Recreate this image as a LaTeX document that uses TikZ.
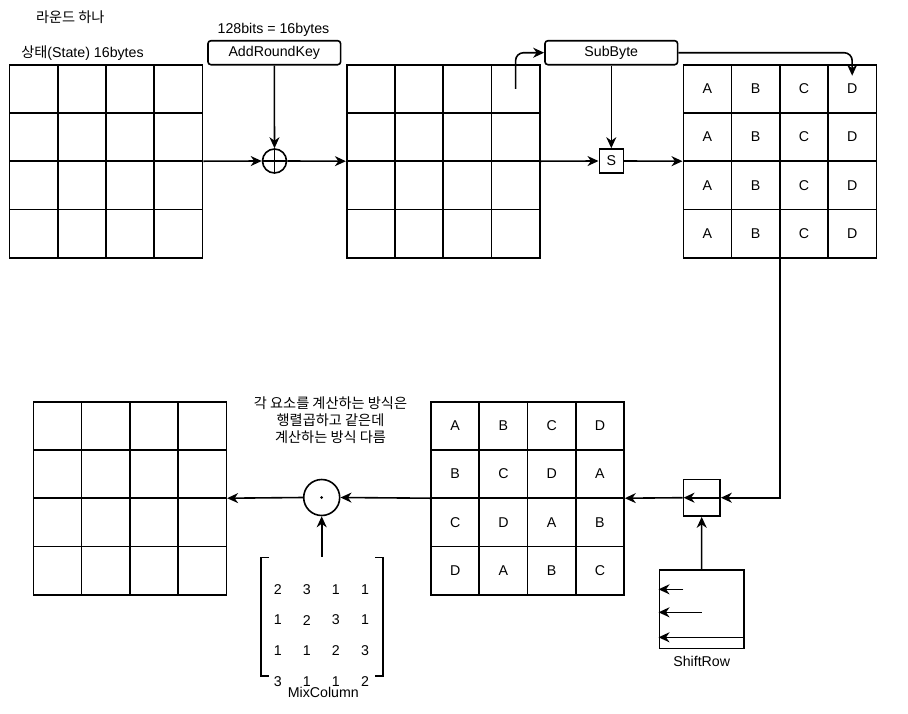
\documentclass[tikz,border=0pt]{standalone}
\usepackage{fontspec}
\setmainfont{Liberation Sans}
\newfontfamily\kr{Noto Sans CJK KR}
\usetikzlibrary{arrows.meta,fit}
\tikzset{
  base/.style={line width=1.6pt},
  cell/.style={base,draw,rectangle,minimum size=48.25pt,inner sep=0pt,outer sep=0pt},
  gridfit/.style={inner sep=0pt,outer sep=0.8pt},
  opbox/.style={base,draw,rectangle,rounded corners=3pt,minimum width=132.7pt,minimum height=24pt,inner sep=0pt},
  sqbox/.style={base,draw,rectangle,inner sep=0pt},
  opcirc/.style={base,draw,circle,inner sep=0pt},
  txt/.style={inner sep=0pt},
  arr/.style={base,-{Stealth[length=11pt,width=10pt,inset=3.5pt]}},
  plain/.style={base},
}
\newcommand\makegrid[4]{%
  \foreach \rowlist [count=\r] in {#4} {
    \foreach \lab [count=\c] in \rowlist {
      \node[cell] (#1-\r-\c) at ({#2+(\c-0.5)*48.25},{#3+(\r-0.5)*48.25}) {\lab};
    }
  }
  \node[gridfit,fit=(#1-1-1)(#1-4-4)] (#1) {};
}
\begin{document}
\begin{tikzpicture}[x=1pt,y=-1pt,font=\fontsize{14.2}{17}\selectfont]
\useasboundingbox (0,0) rectangle (908,713);

% titles
\node[txt] (title) at (70.3,17.5) {{\kr 라운드 하나}};
\node[txt] (statelbl) at (82.5,53) {{\kr 상태}(State) 16bytes};
\node[txt] (keylbl) at (273.5,29.5) {128bits = 16bytes};

% grids
\makegrid{g1}{9.5}{64.7}{{{},{},{},{}},{{},{},{},{}},{{},{},{},{}},{{},{},{},{}}}
\makegrid{g2}{346.7}{64.7}{{{},{},{},{}},{{},{},{},{}},{{},{},{},{}},{{},{},{},{}}}
\makegrid{g3}{683.3}{64.7}{{A,B,C,D},{A,B,C,D},{A,B,C,D},{A,B,C,D}}
\makegrid{g4}{431}{401.7}{{A,B,C,D},{B,C,D,A},{C,D,A,B},{D,A,B,C}}
\makegrid{g5}{33.3}{401.7}{{{},{},{},{}},{{},{},{},{}},{{},{},{},{}},{{},{},{},{}}}

% operation boxes
\node[opbox] (ark) at (274.3,52.7) {AddRoundKey};
\node[opbox] (sub) at (611.3,52.7) {SubByte};
\node[opcirc,minimum size=24pt] (xor) at (274.5,161) {};
\draw[plain] (xor.north) -- (xor.south) (xor.west) -- (xor.east);
\node[sqbox,minimum size=24pt] (sbox) at (611.3,161) {S};
\node[sqbox,minimum size=36.7pt] (shb) at (701.7,497.7) {};
\node[sqbox,minimum width=84.7pt,minimum height=78.3pt] (shr) at (701.65,609.15) {};
\node[txt] (shrlbl) at (701.7,661.5) {ShiftRow};
\node[opcirc,minimum size=36pt] (mix) at (321.7,497.5) {};
\fill (mix.center) circle (1.5pt);

% annotation
\node[txt,align=center] (note) at (330.5,420.5) {{\kr 각 요소를 계산하는 방식은}\\{\kr 행렬곱하고 같은데}\\{\kr 계산하는 방식 다름}};

% MixColumn matrix
\draw[plain] (269,557.5) -- (261,557.5) -- (261,676) -- (269,676);
\draw[plain] (375,557.5) -- (383,557.5) -- (383,676) -- (375,676);
\foreach \rowlist [count=\r] in {{2,3,1,1},{1,2,3,1},{1,1,2,3},{3,1,1,2}} {
  \foreach \v [count=\c] in \rowlist {
    \node[txt] (m-\r-\c) at ({277.7+(\c-1)*29.1},{589.3+(\r-1)*30.8}) {\v};
  }
}
\node[txt] (mixlbl) at (323.3,692) {MixColumn};
\coordinate (mtop) at (321.7,556.7);

% connectors
\draw[arr] (ark.south) -- (xor.north);
\draw[arr] (g1.east) -- (xor.west);
\draw[arr] (xor.east) -- (g2.west);
\draw[arr,rounded corners=8pt] (g2-1-4.center) |- (sub.west);
\coordinate (dtip) at ([yshift=-11pt]g3-1-4.north);
\draw[arr,rounded corners=8pt] (sub.east) -| (dtip);
\draw[arr] (sub.south) -- (sbox.north);
\draw[arr] (g2.east) -- (sbox.west);
\draw[arr] (sbox.east) -- (g3.west);
\draw[arr] (g3.south) |- (shb.east);
\draw[arr] (shb.east) -- ([xshift=1pt]shb.west);
\draw[arr] (shb.west) -- (g4.east);
\draw[arr] (shr.north) -- (shb.south);
\draw[arr] (g4.west) -- (mix.east);
\draw[arr] (mix.west) -- (g5.east);
\draw[arr] (mtop) -- (mix.south);

% ShiftRow inner arrows
\coordinate (sr1) at (683.3,589.3);
\coordinate (sr2) at (701.7,612.3);
\coordinate (sr3) at (744,637.3);
\draw[arr] (sr1) -- (sr1 -| shr.west);
\draw[arr] (sr2) -- (sr2 -| shr.west);
\draw[arr] (sr3) -- (sr3 -| shr.west);
\end{tikzpicture}
\end{document}
